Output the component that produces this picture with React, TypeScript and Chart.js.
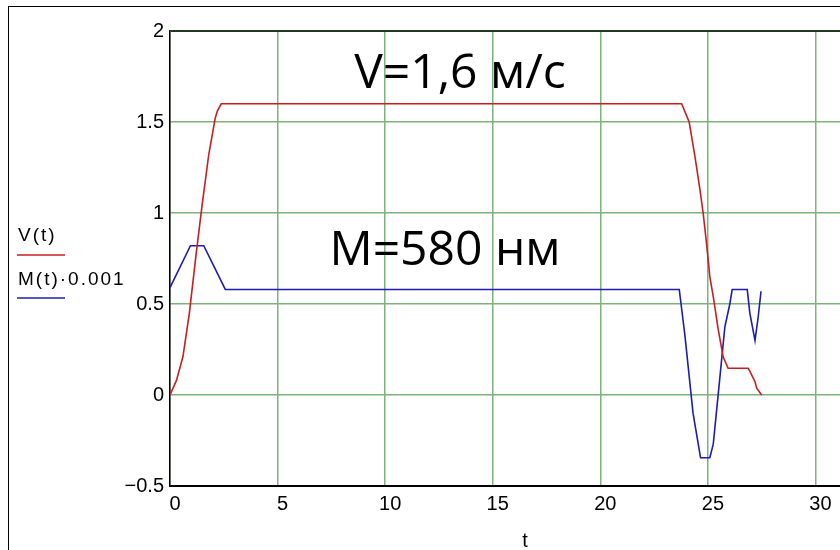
import React, { useEffect, useRef } from "react";
import { Chart, registerables } from "chart.js";

Chart.register(...registerables);

// ---- data ----
const V_T = [0, 0.3, 0.6, 0.9, 1.2, 1.5, 1.8, 2.1, 2.2, 2.38, 23.78, 24.13, 24.4, 24.63, 24.78, 24.94, 25.09, 25.25, 25.48, 25.71, 25.94, 26.87, 26.96, 27.19, 27.27, 27.5];
const V_VAL = [0, 0.08, 0.21, 0.45, 0.76, 1.05, 1.32, 1.52, 1.56, 1.6, 1.6, 1.5, 1.31, 1.13, 1.0, 0.83, 0.65, 0.54, 0.36, 0.21, 0.147, 0.147, 0.128, 0.073, 0.037, 0];

const M_T = [0, 0.95, 1.57, 2.57, 23.67, 23.93, 24.31, 24.66, 25.09, 25.25, 25.56, 25.79, 26.02, 26.13, 26.83, 26.95, 27.19, 27.34, 27.47];
const M_VAL = [0.59, 0.82, 0.82, 0.58, 0.58, 0.33, -0.1, -0.345, -0.345, -0.27, 0.1, 0.375, 0.5, 0.58, 0.58, 0.45, 0.3, 0.43, 0.57];

const X_MIN = 0;
const X_MAX = 33;
const X_STEP = 5;
const Y_MIN = -0.5;
const Y_MAX = 2;
const Y_STEP = 0.5;

const LEGEND_LABELS = ["V(t)", "M(t)·0.001"];
const TITLE_V = "V=1,6 м/с";
const TITLE_M = "M=580 нм";
const X_TITLE = "t";

const V_COLOR = "#c81e1e";
const M_COLOR = "#1c1cb0";
const GRID_COLOR = "#7cb27c";

const overlayPlugin = {
  id: "overlay",
  afterDraw(chart: any) {
    const ctx = chart.ctx as CanvasRenderingContext2D;
    ctx.save();
    ctx.fillStyle = "#000";
    ctx.textAlign = "center";
    ctx.textBaseline = "alphabetic";
    ctx.font = '48px "Open Sans"';
    ctx.fillText(TITLE_V, 460, 88);
    ctx.fillText(TITLE_M, 445, 265);
    ctx.font = '20px "Liberation Sans"';
    ctx.fillText(X_TITLE, 525, 547);
    ctx.textAlign = "left";
    ctx.font = '19px "Liberation Sans"';
    (ctx as any).letterSpacing = "2px";
    ctx.fillText(LEGEND_LABELS[0], 18, 241);
    ctx.fillText(LEGEND_LABELS[1], 18, 285);
    (ctx as any).letterSpacing = "0px";
    ctx.lineWidth = 1.5;
    ctx.strokeStyle = V_COLOR;
    ctx.beginPath();
    ctx.moveTo(17, 255);
    ctx.lineTo(65, 255);
    ctx.stroke();
    ctx.strokeStyle = M_COLOR;
    ctx.beginPath();
    ctx.moveTo(17, 298);
    ctx.lineTo(65, 298);
    ctx.stroke();
    ctx.restore();
  },
};

export default function App() {
  const ref = useRef<HTMLCanvasElement | null>(null);

  useEffect(() => {
    if (!ref.current) return;
    const chart = new Chart(ref.current, {
      type: "line",
      data: {
        datasets: [
          {
            label: LEGEND_LABELS[0],
            data: V_T.map((t, i) => ({ x: t, y: V_VAL[i] })),
            borderColor: V_COLOR,
            borderWidth: 1.6,
            pointRadius: 0,
            tension: 0,
            fill: false,
          },
          {
            label: LEGEND_LABELS[1],
            data: M_T.map((t, i) => ({ x: t, y: M_VAL[i] })),
            borderColor: M_COLOR,
            borderWidth: 1.6,
            pointRadius: 0,
            tension: 0,
            fill: false,
          },
        ],
      },
      options: {
        responsive: false,
        animation: false,
        devicePixelRatio: 1,
        layout: { padding: { top: 31, right: 20, left: 0, bottom: 0 } },
        plugins: {
          legend: { display: false },
          tooltip: { enabled: false },
        },
        scales: {
          x: {
            type: "linear",
            min: X_MIN,
            max: X_MAX,
            afterFit: (s: any) => {
              s.height = 64;
            },
            ticks: {
              stepSize: X_STEP,
              includeBounds: false,
              color: "#000",
              font: { family: "Liberation Sans", size: 20 },
              padding: 6,
              labelOffset: 5,
              maxRotation: 0,
            },
            grid: {
              color: GRID_COLOR,
              lineWidth: 1.5,
              drawTicks: false,
            },
            border: { color: "#000", width: 2 },
          },
          y: {
            type: "linear",
            min: Y_MIN,
            max: Y_MAX,
            afterFit: (s: any) => {
              s.width = 170;
            },
            ticks: {
              stepSize: Y_STEP,
              color: "#000",
              font: { family: "Liberation Sans", size: 20 },
              padding: 6,
              callback: (v: any) => (v < 0 ? "\u2212" + Math.abs(v) : String(v)),
            },
            grid: {
              color: (c: any) => (c.tick && c.tick.value === Y_MAX ? "#1f3a1f" : GRID_COLOR),
              lineWidth: (c: any) => (c.tick && c.tick.value === Y_MAX ? 2 : 1.5),
              drawTicks: false,
            },
            border: { color: "#000", width: 1.5 },
          },
        },
      },
      plugins: [overlayPlugin],
    });
    return () => chart.destroy();
  }, []);

  return (
    <div style={{ position: "fixed", left: 0, top: 0, width: 840, height: 550, overflow: "hidden", background: "#fff" }}>
      <div
        style={{
          position: "absolute",
          left: 8,
          top: 6,
          width: 950,
          height: 650,
          border: "1px solid #000",
          boxSizing: "border-box",
        }}
      />
      <canvas
        ref={ref}
        width={900}
        height={550}
        style={{ position: "absolute", left: 0, top: 0, width: 900, height: 550 }}
      />
    </div>
  );
}
